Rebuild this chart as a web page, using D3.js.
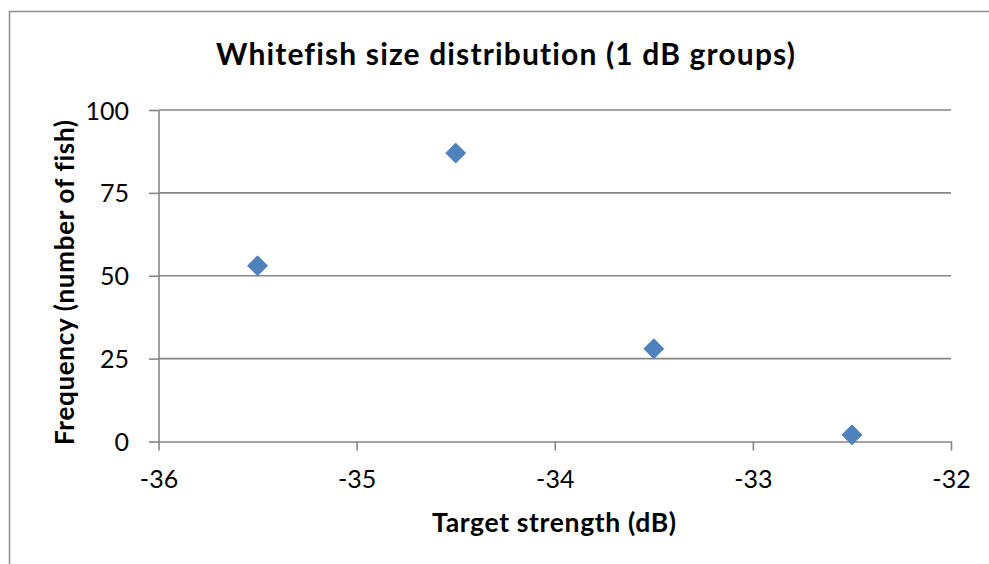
<!DOCTYPE html>
<html>
<head>
<meta charset="utf-8">
<script src="https://cdn.jsdelivr.net/npm/d3@7"></script>
<style>
  html, body { margin: 0; padding: 0; background: #fff; }
  svg { display: block; font-family: "Lato", "Noto Sans", sans-serif; font-variant-ligatures: none; }
</style>
</head>
<body>
<svg id="chart" width="989" height="564"></svg>
<script>
// Whitefish target-strength groups (dB, bin centres) and fish counts
const targetStrength = [-35.5, -34.5, -33.5, -32.5];
const fishCount = [53, 87, 28, 2];
const xTicks = [-36, -35, -34, -33, -32];
const yTicks = [0, 25, 50, 75, 100];

const chartTitle = "Whitefish size distribution (1 dB groups)";
const xTitle = "Target strength (dB)";
const yTitle = "Frequency (number of fish)";

const W = 989, H = 564;
const plot = { left: 158.5, right: 951, top: 110, bottom: 441.5 };
const axisColor = "#868686";

const svg = d3.select("#chart");

// chart frame
svg.append("rect")
  .attr("x", 9.5).attr("y", 11.5)
  .attr("width", W + 10).attr("height", H + 10)
  .attr("fill", "#fff")
  .attr("stroke", "#8e8e8e").attr("stroke-width", 1.5);

const x = d3.scaleLinear().domain([-36, -32]).range([plot.left, plot.right]);
const y = d3.scaleLinear().domain([0, 100]).range([plot.bottom, plot.top]);

// horizontal gridlines
svg.append("g")
  .selectAll("line")
  .data(yTicks.filter(d => d > 0))
  .join("line")
  .attr("x1", plot.left).attr("x2", plot.right)
  .attr("y1", d => y(d)).attr("y2", d => y(d))
  .attr("stroke", axisColor).attr("stroke-width", 1.6);

// y axis
const yAxis = svg.append("g")
  .attr("transform", `translate(${plot.left},0)`)
  .call(d3.axisLeft(y).tickValues(yTicks).tickSizeInner(9.5).tickSizeOuter(0).tickPadding(20));

// x axis
const xAxis = svg.append("g")
  .attr("transform", `translate(0,${plot.bottom})`)
  .call(d3.axisBottom(x).tickValues(xTicks).tickSizeInner(9).tickSizeOuter(0)
    .tickFormat(d3.format("d")));

[yAxis, xAxis].forEach(g => {
  g.select(".domain").attr("stroke", axisColor).attr("stroke-width", 1.6);
  g.selectAll(".tick line").attr("stroke", axisColor).attr("stroke-width", 1.6);
  g.selectAll(".tick text")
    .attr("fill", "#000")
    .style("font-size", "25px")
    .style("font-family", "Lato");
});
yAxis.selectAll(".tick text").attr("dy", "0.36em");
xAxis.selectAll(".tick text").attr("y", 46.5).attr("dy", 0)
  .text(d => d3.format("d")(d).replace("\u2212", "-"));

// markers
svg.append("g")
  .selectAll("path")
  .data(targetStrength.map((t, i) => ({ t, n: fishCount[i] })))
  .join("path")
  .attr("transform", d => `translate(${x(d.t)},${y(d.n)})`)
  .attr("d", "M0,-10L10,0L0,10L-10,0Z")
  .attr("fill", "#4f81bd")
  .attr("stroke", "#4677b5").attr("stroke-width", 0.8);

// titles
svg.append("text")
  .attr("x", 505.5).attr("y", 65)
  .attr("text-anchor", "middle")
  .attr("textLength", 579).attr("lengthAdjust", "spacing")
  .style("font-size", "30px").style("font-weight", "bold")
  .text(chartTitle);

svg.append("text")
  .attr("x", 554).attr("y", 532)
  .attr("text-anchor", "middle")
  .attr("textLength", 244).attr("lengthAdjust", "spacing")
  .style("font-size", "26.5px").style("font-weight", "bold")
  .text(xTitle);

svg.append("text")
  .attr("transform", "translate(73.5,282.5) rotate(-90)")
  .attr("text-anchor", "middle")
  .attr("textLength", 325).attr("lengthAdjust", "spacing")
  .style("font-size", "26px").style("font-weight", "bold")
  .text(yTitle);
</script>
</body>
</html>
